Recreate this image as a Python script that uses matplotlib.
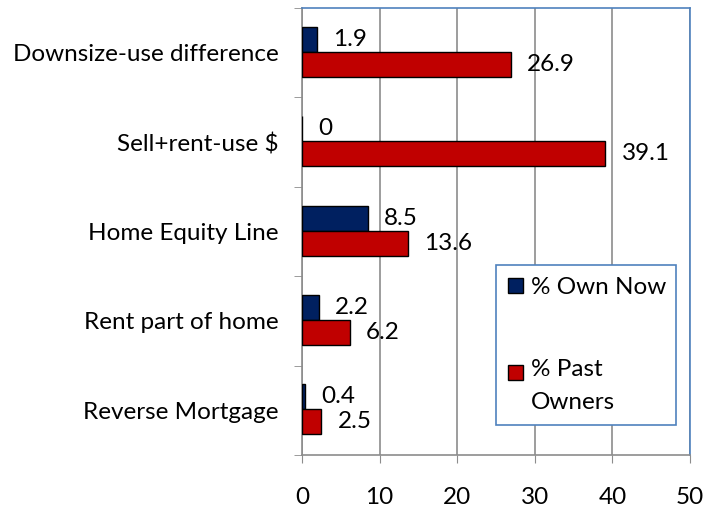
import numpy as np
import matplotlib
matplotlib.use('Agg')
import matplotlib.pyplot as plt
from matplotlib.ticker import FixedLocator
from matplotlib.patches import Rectangle
from matplotlib.legend_handler import HandlerPatch

plt.rcParams['font.family'] = ['Lato', 'DejaVu Sans']

categories = ["Downsize-use difference", "Sell+rent-use $", "Home Equity Line",
              "Rent part of home", "Reverse Mortgage"]
own_now = [1.9, 0, 8.5, 2.2, 0.4]
past_owners = [26.9, 39.1, 13.6, 6.2, 2.5]
series_names = ["% Own Now", "% Past\nOwners"]
x_ticks = [0, 10, 20, 30, 40, 50]

blue = '#002060'
red = '#C00000'
frame = '#4F81BD'
grid = '#8C8C8C'
fs = 17.5

fig = plt.figure(figsize=(7.07, 5.08), dpi=100)
ax = fig.add_axes([0.4272, 0.1043, 0.5488, 0.8800])

y = np.arange(len(categories))
h = 0.28
b1 = ax.barh(y - h / 2 - 0.01, own_now, height=h, color=blue, edgecolor='black',
             linewidth=1, zorder=3)
b2 = ax.barh(y + h / 2 - 0.01, past_owners, height=h, color=red, edgecolor='black',
             linewidth=1, zorder=3)

# data labels right of each bar
for bars, vals in ((b1, own_now), (b2, past_owners)):
    for bar, v in zip(bars, vals):
        ax.annotate(f"{v:g}", (v, bar.get_y() + bar.get_height() / 2),
                    xytext=(16, 0), textcoords='offset pixels',
                    ha='left', va='center', fontsize=fs, zorder=4)

ax.set_xlim(0, 50)
ax.set_ylim(len(categories) - 0.5, -0.5)
ax.set_xticks(x_ticks)
ax.set_yticks(y)
ax.set_yticklabels(categories)
ax.yaxis.set_minor_locator(FixedLocator(np.arange(-0.5, len(categories), 1)))
ax.tick_params(axis='y', which='major', length=0, pad=17, labelsize=fs)
ax.tick_params(axis='y', which='minor', length=6, color=grid, direction='out')
ax.tick_params(axis='x', length=6, color=grid, direction='out', pad=17, labelsize=fs)

ax.xaxis.grid(True, color=grid, linewidth=1.2, zorder=0)
ax.set_axisbelow(True)

for s in ('top', 'right'):
    ax.spines[s].set_color(frame)
    ax.spines[s].set_linewidth(1.2)
for s in ('left', 'bottom'):
    ax.spines[s].set_color(grid)
    ax.spines[s].set_linewidth(1.2)


def square(shift):
    # legend square, moved up so the two-line entry's square sits by its first line
    def f(legend, orig_handle, xdescent, ydescent, width, height, fontsize):
        return Rectangle((-xdescent, -ydescent + shift * fontsize), width, height)
    return HandlerPatch(patch_func=f)


h1, h2 = b1.patches[0], b2.patches[0]
leg = ax.legend([h1, h2], series_names, loc='upper left',
                bbox_to_anchor=(0.5, 0.0, 0.464, 0.425),
                bbox_transform=ax.transAxes, mode='expand',
                handler_map={h1: square(0), h2: square(0.55)},
                frameon=True, fancybox=False, fontsize=fs, handlelength=0.62, handleheight=0.62,
                handletextpad=0.33, labelspacing=2.5, borderpad=0.5, borderaxespad=0)
for t in leg.get_texts():
    t.set_linespacing(1.7)
leg.get_frame().set_edgecolor(frame)
leg.get_frame().set_linewidth(1.2)
leg.get_frame().set_alpha(1)

fig.savefig('out.png', dpi=100)
